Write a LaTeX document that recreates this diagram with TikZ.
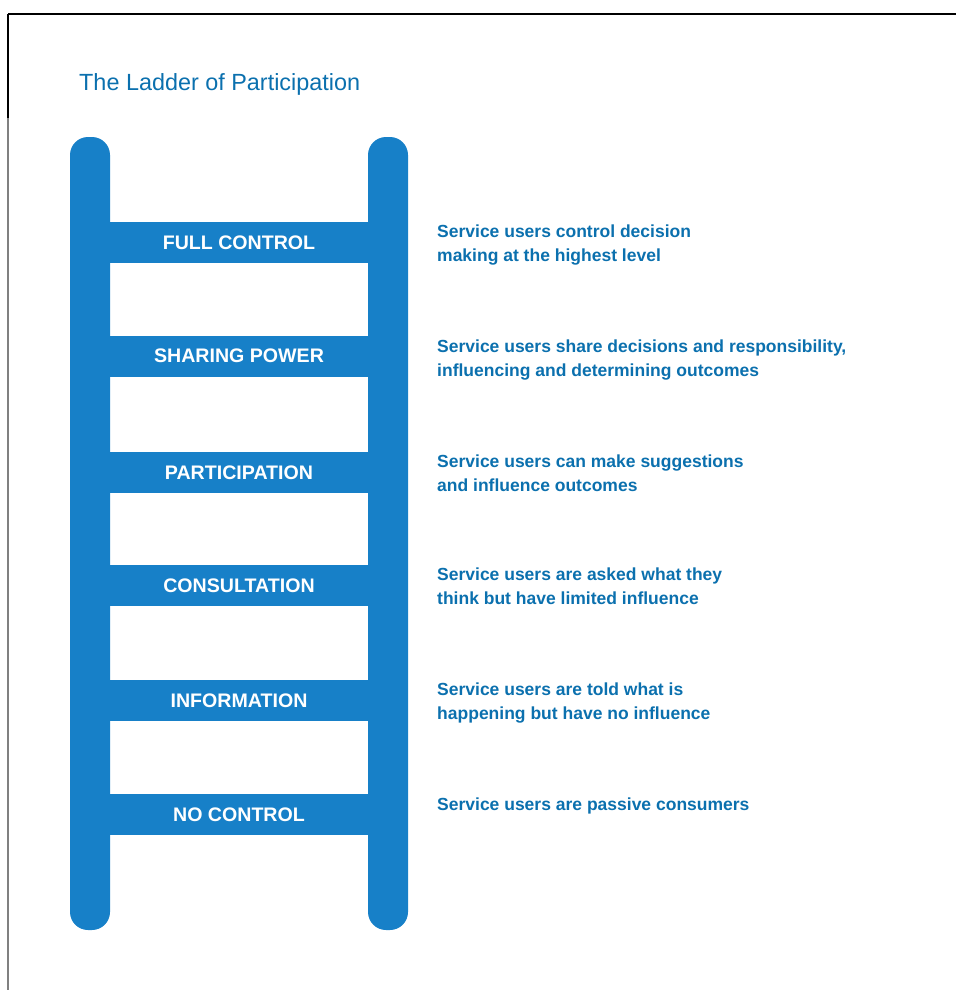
\documentclass[tikz,border=0pt]{standalone}
\usepackage{fontspec}
\setmainfont{Liberation Sans}
\definecolor{ladderblue}{HTML}{1780C8}
\definecolor{textblue}{HTML}{0B70AE}
\begin{document}
\begin{tikzpicture}[x=1pt,y=-1pt,
frame/.style={line width=2pt},
rail/.style={fill=ladderblue,rounded corners=18pt},
rung/.style={fill=ladderblue,text=white,minimum width=258pt,minimum height=41pt,inner sep=0,font=\fontsize{19.6}{22}\selectfont\bfseries},
desc/.style={anchor=north west,align=left,inner sep=0,text=textblue,font=\fontsize{17.5}{24}\selectfont\bfseries},
heading/.style={anchor=west,inner sep=0,text=textblue,font=\fontsize{23.4}{28}\selectfont},
]
\useasboundingbox(0,0)rectangle(956,990);
%frame
\draw[frame](8,14)--(956,14);
\draw[frame](8,14)--(8,118);
\draw[frame,gray](8,118)--(8,990);
%title
\node[heading](title)at(79,84){The Ladder of Participation};
%rails
\fill[rail](70,137)rectangle(110,930);
\fill[rail](368,137)rectangle(408,930);
%rungs - top to bottom
\node[rung](full)at(239,242.5){FULL CONTROL};
\node[rung](sharing)at(239,356){SHARING POWER};
\node[rung](participation)at(239,472.5){PARTICIPATION};
\node[rung](consultation)at(239,585.5){CONSULTATION};
\node[rung](information)at(239,700.5){INFORMATION};
\node[rung](nocontrol)at(239,814.5){NO CONTROL};
%descriptions
\node[desc](fulltxt)at(437,225){Service users control decision\\making at the highest level};
\node[desc](sharingtxt)at(437,340){Service users share decisions and responsibility,\\influencing and determining outcomes};
\node[desc](participationtxt)at(437,455){Service users can make suggestions\\and influence outcomes};
\node[desc](consultationtxt)at(437,568){Service users are asked what they\\think but have limited influence};
\node[desc](informationtxt)at(437,683){Service users are told what is\\happening but have no influence};
\node[desc](nocontroltxt)at(437,798){Service users are passive consumers};
\end{tikzpicture}
\end{document}
